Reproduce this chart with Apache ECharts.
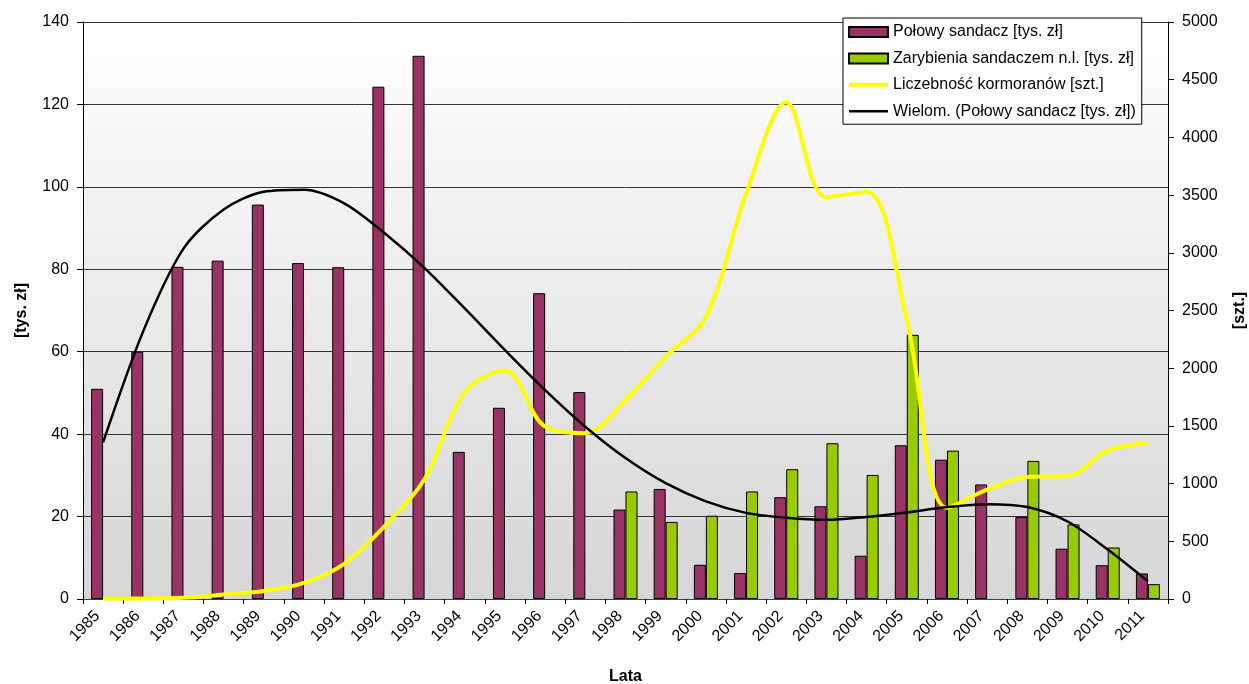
<!DOCTYPE html>
<html>
<head>
<meta charset="utf-8">
<script src="https://cdn.jsdelivr.net/npm/echarts@6/dist/echarts.min.js"></script>
<style>
html,body{margin:0;padding:0;background:#fff;}
#c{width:1249px;height:684px;}
</style>
</head>
<body>
<div id="c"></div>
<script>
const years = ['1985','1986','1987','1988','1989','1990','1991','1992','1993','1994','1995','1996','1997','1998','1999','2000','2001','2002','2003','2004','2005','2006','2007','2008','2009','2010','2011'];
const polowy = [51, 60, 80.6, 82.1, 95.7, 81.5, 80.5, 124.3, 131.8, 35.7, 46.4, 74.2, 50.2, 21.7, 26.7, 8.3, 6.3, 24.7, 22.5, 10.5, 37.3, 33.8, 27.8, 19.9, 12.2, 8.2, 6.2];
const zarybienia = [null, null, null, null, null, null, null, null, null, null, null, null, null, 26.1, 18.7, 20.2, 26.1, 31.5, 37.8, 30.1, 64.1, 36.0, null, 33.5, 18.1, 12.5, 3.6];
const kormorany = [5, 5, 10, 40, 70, 140, 305, 630, 1040, 1790, 1980, 1494, 1437, 1725, 2100, 2446, 3513, 4305, 3483, 3530, 2417, 790, 947, 1057, 1065, 1285, 1351];
const trend = [38.0, 65.0, 85.0, 94.5, 98.8, 99.3, 96.0, 88.8, 80.3, 70.5, 60.4, 50.7, 41.8, 34.2, 28.1, 23.7, 20.9, 19.7, 19.2, 19.9, 21.0, 22.3, 23.0, 22.3, 18.8, 12.0, 4.3];
const leftTicks = {min: 0, max: 140, interval: 20};
const rightTicks = {min: 0, max: 5000, interval: 500};
const legendNames = ['Połowy sandacz [tys. zł]', 'Zarybienia sandaczem n.l. [tys. zł]', 'Liczebność kormoranów [szt.]', 'Wielom. (Połowy sandacz [tys. zł])'];

const FONT = 'Liberation Sans, Arial, sans-serif';
const chart = echarts.init(document.getElementById('c'));
chart.setOption({
  animation: false,
  textStyle: {fontFamily: FONT},
  grid: {
    left: 83, right: 81, top: 22, bottom: 85,
    containLabel: false,
    outerBoundsMode: 'none',
    show: true, borderWidth: 0,
    backgroundColor: new echarts.graphic.LinearGradient(0, 0, 0, 1, [
      {offset: 0, color: '#ffffff'},
      {offset: 1, color: '#d6d6d6'}
    ])
  },
  legend: {
    orient: 'vertical',
    left: 843, top: 18,
    padding: [5, 6, 4, 5],
    itemGap: 8.4,
    itemWidth: 39, itemHeight: 10,
    backgroundColor: '#ffffff',
    borderColor: '#000000', borderWidth: 1,
    textStyle: {fontFamily: FONT, fontSize: 16, color: '#000', lineHeight: 18},
    data: [
      {name: legendNames[0], icon: 'rect'},
      {name: legendNames[1], icon: 'rect'},
      {name: legendNames[2], icon: 'path://M0,0L0,0M0,3L39,3L39,7L0,7ZM39,10L39,10', itemStyle: {color: '#ffff00', borderWidth: 0}},
      {name: legendNames[3], icon: 'path://M0,0L0,0M0,3.7L39,3.7L39,6.3L0,6.3ZM39,10L39,10', itemStyle: {color: '#000000', borderWidth: 0}}
    ]
  },
  xAxis: {
    type: 'category',
    data: years,
    boundaryGap: true,
    name: 'Lata',
    nameLocation: 'middle',
    nameGap: 70,
    nameTextStyle: {fontFamily: FONT, fontSize: 16, fontWeight: 'bold', color: '#000'},
    axisLine: {lineStyle: {color: '#404040', width: 1}},
    axisTick: {show: true, length: 5, lineStyle: {color: '#000'}},
    axisLabel: {rotate: 45, fontSize: 16, color: '#000', margin: 9, interval: 0, fontFamily: FONT, padding: [0, 8, 0, 0]}
  },
  yAxis: [
    {
      type: 'value',
      min: leftTicks.min, max: leftTicks.max, interval: leftTicks.interval,
      name: '[tys. zł]',
      nameLocation: 'middle', nameRotate: 90, nameGap: 53,
      nameTextStyle: {fontFamily: FONT, fontSize: 16, fontWeight: 'bold', color: '#000'},
      axisLine: {show: true, lineStyle: {color: '#000', width: 1}},
      axisTick: {show: true, length: 6, lineStyle: {color: '#000'}},
      axisLabel: {fontSize: 16, color: '#000', margin: 14, fontFamily: FONT},
      splitLine: {show: true, lineStyle: {color: '#333', width: 1}}
    },
    {
      type: 'value',
      position: 'right',
      min: rightTicks.min, max: rightTicks.max, interval: rightTicks.interval,
      name: '[szt.]',
      nameLocation: 'middle', nameRotate: 90, nameGap: 64,
      nameTextStyle: {fontFamily: FONT, fontSize: 16, fontWeight: 'bold', color: '#000'},
      axisLine: {show: true, lineStyle: {color: '#000', width: 1}},
      axisTick: {show: true, length: 6, lineStyle: {color: '#000'}},
      axisLabel: {fontSize: 16, color: '#000', margin: 14, fontFamily: FONT, formatter: v => String(v)},
      splitLine: {show: false}
    }
  ],
  series: [
    {
      name: legendNames[0],
      type: 'bar',
      yAxisIndex: 0,
      data: polowy,
      barWidth: 12,
      barGap: '0%',
      itemStyle: {color: '#993366', borderColor: '#000', borderWidth: 1},
      z: 2
    },
    {
      name: legendNames[1],
      type: 'bar',
      yAxisIndex: 0,
      data: zarybienia,
      barWidth: 12,
      barGap: '0%',
      itemStyle: {color: '#99cc00', borderColor: '#000', borderWidth: 1},
      z: 2
    },
    {
      name: legendNames[2],
      type: 'line',
      yAxisIndex: 1,
      data: kormorany,
      smooth: 0.35,
      symbol: 'none',
      lineStyle: {color: '#ffff00', width: 4},
      itemStyle: {color: '#ffff00'},
      z: 4
    },
    {
      name: legendNames[3],
      type: 'line',
      yAxisIndex: 0,
      data: trend,
      smooth: 0.3,
      symbol: 'none',
      lineStyle: {color: '#000000', width: 2.5},
      itemStyle: {color: '#000000'},
      z: 5
    }
  ]
});
</script>
</body>
</html>
